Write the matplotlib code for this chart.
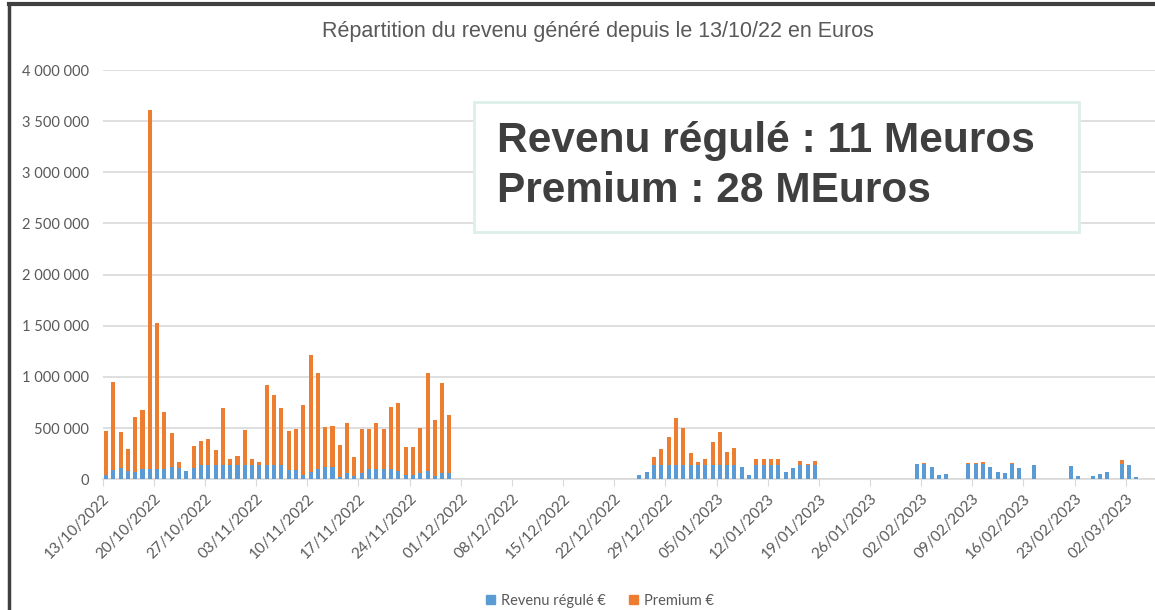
import pandas as pd
import matplotlib
matplotlib.use("Agg")
import matplotlib.pyplot as plt
import matplotlib.dates as mdates
from matplotlib.patches import Rectangle, Patch
from matplotlib.lines import Line2D
from matplotlib.ticker import FuncFormatter, MultipleLocator

# Données (en milliers d'euros)
debut_1 = "2022-10-13"
revenu_1 = [40, 93, 106, 83, 76, 99, 99, 99, 99, 119, 106, 83, 106, 136, 142, 142,
            136, 142, 142, 142, 142, 142, 142, 142, 142, 93, 93, 43, 76, 99, 116, 116,
            23, 66, 33, 66, 99, 99, 99, 99, 83, 43, 43, 66, 83, 36, 66, 66]
premium_1 = [430, 858, 356, 217, 530, 582, 3507, 1425, 559, 337, 63, 0, 223, 239, 249, 141,
             561, 53, 83, 340, 60, 27, 780, 682, 555, 379, 396, 683, 1139, 943, 395, 402,
             312, 488, 182, 423, 396, 455, 390, 608, 660, 270, 270, 436, 953, 544, 879, 563]

debut_2 = "2022-12-25"
revenu_2 = [43, 73, 142, 142, 142, 142, 142, 142, 142, 142, 142, 142, 142, 142, 123, 43,
            142, 142, 142, 142, 70, 106, 142, 142, 142]
premium_2 = [0, 3, 80, 156, 272, 454, 361, 110, 27, 57, 219, 318, 120, 163, 0, 0,
             57, 57, 57, 57, 0, 0, 33, 7, 33]

debut_3 = "2023-02-01"
revenu_3 = [146, 146, 122, 46, 53, 0, 0, 146, 146, 146, 122, 73, 63, 146, 113, 0,
            139, 0, 0, 0, 0, 132, 30, 0, 36, 53, 73, 0, 146, 139, 23]
premium_3 = [0, 10, 0, 0, 0, 0, 0, 10, 10, 26, 0, 0, 0, 10, 0, 0,
             0, 0, 0, 0, 0, 0, 0, 0, 0, 0, 0, 0, 39, 0, 0]

titre = "Répartition du revenu généré depuis le 13/10/22 en Euros"
texte_1 = "Revenu régulé : 11 Meuros"
texte_2 = "Premium : 28 MEuros"

# assemble the segments into one daily table
parts = []
for debut, rev, prem in [(debut_1, revenu_1, premium_1),
                         (debut_2, revenu_2, premium_2),
                         (debut_3, revenu_3, premium_3)]:
    d = pd.DataFrame({"revenu": rev, "premium": prem},
                     index=pd.date_range(debut, periods=len(rev), freq="D"))
    parts.append(d)
df = pd.concat(parts) * 1000

BLUE = "#5B9BD5"
ORANGE = "#ED7D31"
GREY = "#595959"
GRID = "#D9D9D9"

fig = plt.figure(figsize=(11.55, 6.1), dpi=100)
ax = fig.add_axes([0.0889, 0.2143, 0.9111, 0.6709])

x = mdates.date2num(df.index) + 0.45
ax.bar(x, df["revenu"], width=0.55, color=BLUE, zorder=3)
ax.bar(x, df["premium"], width=0.55, bottom=df["revenu"], color=ORANGE, zorder=3)

start = mdates.date2num(pd.Timestamp(debut_1))
ax.set_xlim(start, start + 144)
ax.set_ylim(0, 4000000)
ax.yaxis.set_major_locator(MultipleLocator(500000))
ax.yaxis.set_major_formatter(FuncFormatter(lambda v, p: f"{int(v):,}".replace(",", " ")))

ticks = pd.date_range(debut_1, "2023-03-02", freq="7D")
ax.set_xticks(mdates.date2num(ticks))
ax.set_xticklabels([t.strftime("%d/%m/%Y") for t in ticks], rotation=45, ha="right",
                   rotation_mode="anchor", fontsize=11, color=GREY, family="Lato")
for lab in ax.get_yticklabels():
    lab.set_family("Lato")
ax.tick_params(axis="y", length=0, labelsize=10.5, labelcolor=GREY, pad=10)
ax.tick_params(axis="x", length=5, color=GRID, pad=4)

ax.grid(axis="y", color=GRID, linewidth=1.2, zorder=0)
for s in ["top", "right", "left"]:
    ax.spines[s].set_visible(False)
ax.spines["bottom"].set_color(GRID)
ax.spines["bottom"].set_linewidth(1.2)

fig.text(598 / 1155, 1 - 32 / 610, titre, ha="center", va="center",
         fontsize=15.5, color=GREY, family="Liberation Sans")

# text box
fig.patches.append(Rectangle((474 / 1155, 1 - 232 / 610), 605 / 1155, 130 / 610,
                             transform=fig.transFigure, fill=True, facecolor="white",
                             edgecolor="#DDEFEA", linewidth=2, zorder=5))
fig.text(497 / 1155, 1 - 141 / 610, texte_1, ha="left", va="center", fontsize=30.5,
         fontweight="bold", color="#3F3F3F", family="Liberation Sans", zorder=6)
fig.text(497 / 1155, 1 - 191 / 610, texte_2, ha="left", va="center", fontsize=30.5,
         fontweight="bold", color="#3F3F3F", family="Liberation Sans", zorder=6)

handles = [Patch(color=BLUE, label="Revenu régulé €"), Patch(color=ORANGE, label="Premium €")]
fig.legend(handles=handles, loc="center", bbox_to_anchor=(600 / 1155, 1 - 601 / 610),
           ncol=2, frameon=False, handlelength=0.6, handleheight=0.6, handletextpad=0.4,
           columnspacing=1.6, prop={"family": "Lato", "size": 10.5}, labelcolor=GREY)

# outer frame (top and left)
fig.add_artist(Line2D([9 / 1155, 1], [1 - 4 / 610, 1 - 4 / 610], transform=fig.transFigure,
                      color="#404040", linewidth=3))
fig.add_artist(Line2D([9 / 1155, 9 / 1155], [0, 1 - 4 / 610], transform=fig.transFigure,
                      color="#404040", linewidth=2.5))

fig.savefig("out.png", dpi=100)
